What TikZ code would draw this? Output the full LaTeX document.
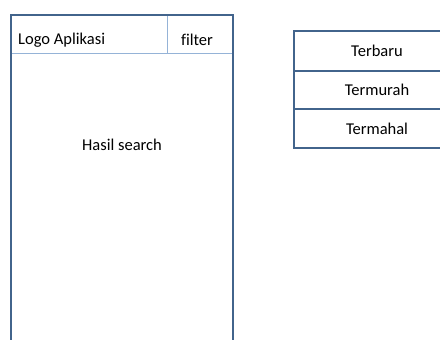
\documentclass[tikz,border=0pt]{standalone}
\usepackage{fontspec}
\setmainfont{Carlito}[Ligatures=NoCommon]
\definecolor{frame}{RGB}{66,100,140}
\definecolor{divider}{RGB}{149,179,215}
\begin{document}
\begin{tikzpicture}[x=1pt,y=-1pt,
  outer/.style={draw=frame,line width=1.6pt},
  inner/.style={draw=divider,line width=0.9pt},
  menuline/.style={draw=frame,line width=1.1pt},
  label/.style={font=\fontsize{16.5}{18}\selectfont,inner sep=0pt}]
\useasboundingbox (0,0) rectangle (440,340);
\begin{scope}
\clip (0,0) rectangle (440,340);
% phone screen
\draw[inner] (11,53) -- (233,53);
\draw[inner] (167,15) -- (167,53);
\draw[outer] (11,350) -- (11,15) -- (233,15) -- (233,350);
\node[label,anchor=west] (logo) at (18,40) {Logo Aplikasi};
\node[label] (filter) at (197,40) {filter};
\node[label] (hasil) at (122,145) {Hasil search};
% filter menu
\draw[menuline] (460,31) -- (294,31) -- (294,148) -- (460,148);
\draw[menuline] (294,71) -- (460,71);
\draw[menuline] (294,109) -- (460,109);
\node[label] (baru) at (377,51) {Terbaru};
\node[label] (murah) at (377,90) {Termurah};
\node[label] (mahal) at (377,129) {Termahal};
\end{scope}
\end{tikzpicture}
\end{document}
